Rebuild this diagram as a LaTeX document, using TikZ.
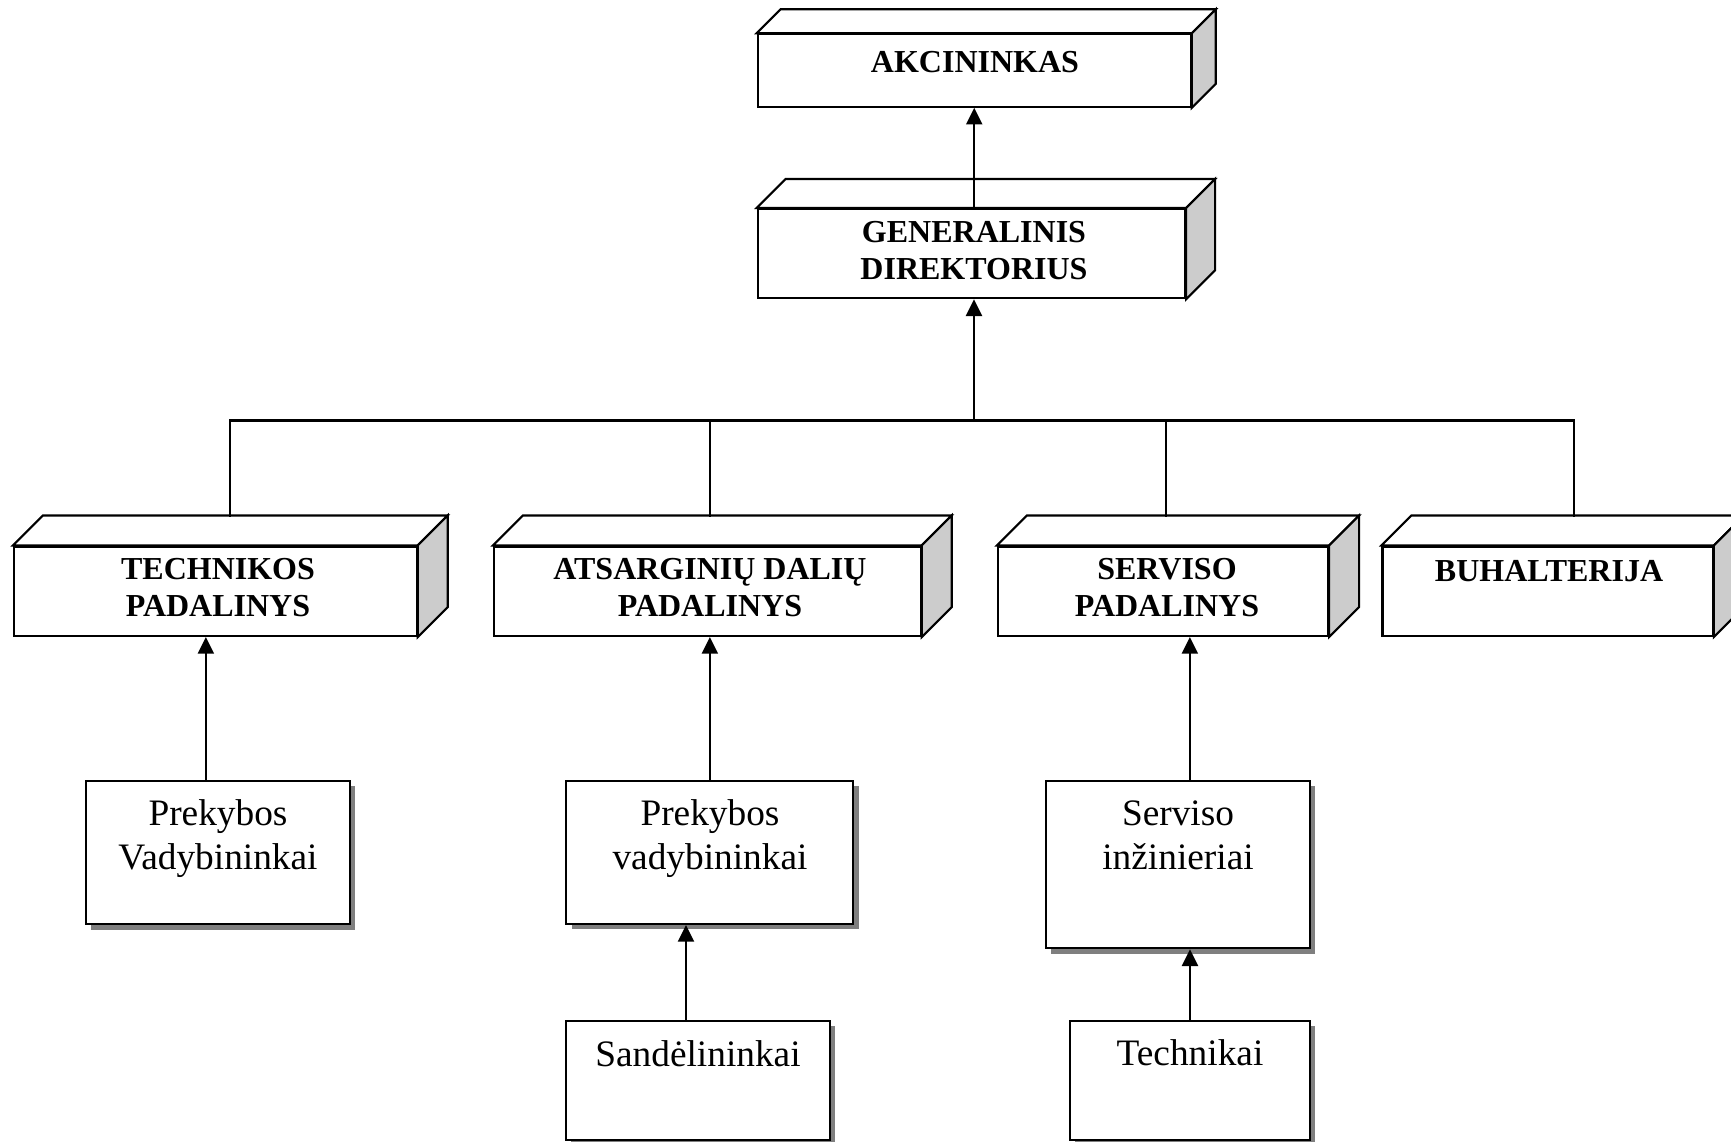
\documentclass[tikz,border=0pt]{standalone}
\usepackage{fontspec}
\setmainfont{Liberation Serif}
\usetikzlibrary{fit,shadows,arrows.meta,calc}
\definecolor{sidegray}{HTML}{CCCCCC}
\definecolor{shadowgray}{HTML}{7F7F7F}
\tikzset{
  frontbox/.style={draw, fill=white, inner sep=0pt, rectangle},
  plainbox/.style={draw, fill=white, inner sep=0pt, rectangle,
    drop shadow={shadow xshift=4pt, shadow yshift=-4pt, fill=shadowgray, opacity=1}},
  boldtxt/.style={font=\fontsize{24}{27.5}\selectfont\bfseries, align=center, inner sep=0pt, anchor=base},
  regtxt/.style={font=\fontsize{28}{33}\selectfont, align=center, inner sep=0pt, anchor=base},
  arr/.style={-{Triangle[length=12.5pt,width=12pt]}},
}
\begin{document}
\begin{tikzpicture}[x=0.75pt, y=-0.75pt, line width=1.6pt]
\useasboundingbox (0,0) rectangle (1731,1142);
\clip (0,0) rectangle (1731,1142);
\fill[white] (0,0) rectangle (1731,1142);

% 3D boxes (front faces)
\node[frontbox, fit={(757.7,34.3) (1190.7,106.7)}] (akc) {};
\node[frontbox, fit={(757.7,209) (1185,298.3)}] (gen) {};
\node[frontbox, fit={(14,546.5) (416.7,636)}] (tech) {};
\node[frontbox, fit={(494,546.5) (920.7,636)}] (ats) {};
\node[frontbox, fit={(998,546.5) (1328,636)}] (serv) {};
\node[frontbox, fit={(1382.5,546.5) (1712.8,636)}] (buh) {};

\foreach \n/\d in {akc/24, gen/29, tech/30, ats/30, serv/30, buh/30}{
  \filldraw[fill=white, line join=miter] (\n.north west) -- ++(\d,-\d) -- ($(\n.north east)+(\d,-\d)$) -- (\n.north east) -- cycle;
  \filldraw[fill=sidegray, line join=miter] (\n.north east) -- ++(\d,-\d) -- ($(\n.south east)+(\d,-\d)$) -- (\n.south east) -- cycle;
}

% plain boxes with shadow
\node[plainbox, fit={(85.7,780.7) (350,924.3)}] (pv1) {};
\node[plainbox, fit={(566.4,780.7) (853.4,924)}] (pv2) {};
\node[plainbox, fit={(566,1020.7) (830,1140)}] (sand) {};
\node[plainbox, fit={(1045.7,780.7) (1310,948.3)}] (si) {};
\node[plainbox, fit={(1070,1020.7) (1310,1140)}] (techn) {};

% texts (anchor = baseline of the last line)
\node[boldtxt] (akct) at (975,72) {AKCININKAS};
\node[boldtxt] (gent) at (974,279.5) {GENERALINIS\\DIREKTORIUS};
\node[boldtxt] (techt) at (218,616.5) {TECHNIKOS\\PADALINYS};
\node[boldtxt] (atst) at (710,616.5) {ATSARGINIŲ DALIŲ\\PADALINYS};
\node[boldtxt] (servt) at (1167,616.5) {SERVISO\\PADALINYS};
\node[boldtxt] (buht) at (1549,581) {BUHALTERIJA};
\node[regtxt] (pv1t) at (218,869) {Prekybos\\Vadybininkai};
\node[regtxt] (pv2t) at (710,869) {Prekybos\\vadybininkai};
\node[regtxt] (sandt) at (698,1066) {Sandėlininkai};
\node[regtxt] (sit) at (1178,869) {Serviso\\inžinieriai};
\node[regtxt] (techt2) at (1190,1065) {Technikai};

% connectors
\draw[arr] (akc.south |- gen.north) -- (akc.south);
\coordinate (bus) at (974,420.5);
\draw[arr] (bus) -- (bus |- gen.south);
\coordinate (techtop) at (230,516.5);
\coordinate (atstop) at (710,516.5);
\coordinate (servtop) at (1166,516.5);
\coordinate (buhtop) at (1574,516.5);
\draw[line join=miter] (techtop) |- (buhtop |- bus) -- (buhtop);
\draw (atstop) -- (atstop |- bus);
\draw (servtop) -- (servtop |- bus);

\coordinate (c1) at ($(pv1.north)+(-12,0)$);
\draw[arr] (c1) -- (c1 |- tech.south);
\draw[arr] (pv2.north) -- (pv2.north |- ats.south);
\coordinate (c2) at ($(sand.north)+(-12,0)$);
\draw[arr] (c2) -- (c2 |- pv2.south);
\coordinate (c3) at ($(si.north)+(12,0)$);
\draw[arr] (c3) -- (c3 |- serv.south);
\draw[arr] (techn.north) -- (techn.north |- si.south);
\end{tikzpicture}
\end{document}
